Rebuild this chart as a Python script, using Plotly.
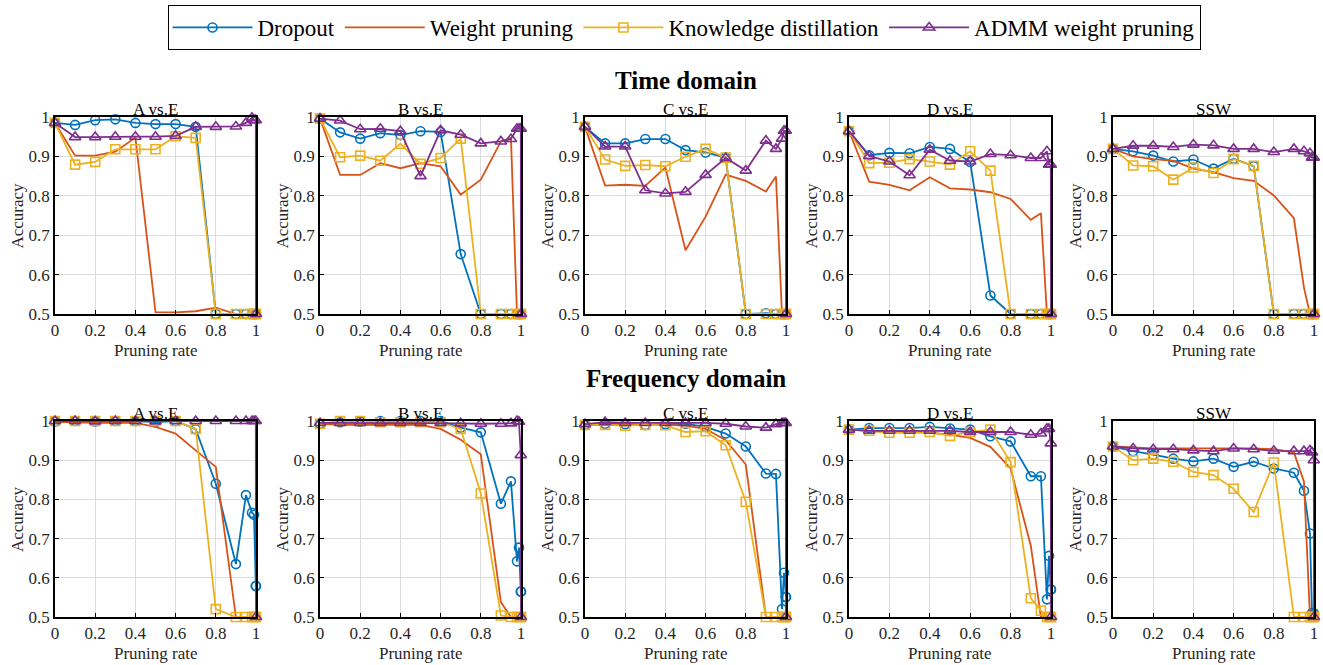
import plotly.graph_objects as go

W, H = 1323, 665

# ---------------- data ----------------
pruning_rate = [0, 0.1, 0.2, 0.3, 0.4, 0.5, 0.6, 0.7, 0.8, 0.9, 0.95, 0.98, 0.99, 0.999, 1.0]

method_names = ["Dropout", "Weight pruning", "Knowledge distillation", "ADMM weight pruning"]
panel_titles = ["A vs.E", "B vs.E", "C vs.E", "D vs.E", "SSW"]
row_titles = ["Time domain", "Frequency domain"]

y_tick_vals = [0.5, 0.6, 0.7, 0.8, 0.9, 1.0]
y_tick_text = ["0.5", "0.6", "0.7", "0.8", "0.9", "1"]
x_tick_vals = [0, 0.2, 0.4, 0.6, 0.8, 1.0]
x_tick_text = ["0", "0.2", "0.4", "0.6", "0.8", "1"]

# Time domain
time_A_dropout = [0.985, 0.980, 0.992, 0.994, 0.985, 0.982, 0.982, 0.975, 0.5, 0.5, 0.5, 0.5, 0.5, 0.5, 0.5]
time_A_wp      = [0.985, 0.902, 0.902, 0.912, 0.948, 0.505, 0.504, 0.507, 0.516, 0.5, 0.5, 0.5, 0.5, 0.5, 0.5]
time_A_kd      = [0.985, 0.879, 0.886, 0.918, 0.918, 0.918, 0.951, 0.947, 0.5, 0.5, 0.5, 0.5, 0.5, 0.5, 0.5]
time_A_admm    = [0.985, 0.949, 0.949, 0.950, 0.950, 0.950, 0.952, 0.975, 0.975, 0.976, 0.985, 0.998, 0.992, 0.992, 0.5]

time_B_dropout = [0.996, 0.961, 0.945, 0.959, 0.954, 0.964, 0.962, 0.652, 0.5, 0.5, 0.5, 0.5, 0.5, 0.5, 0.5]
time_B_wp      = [0.996, 0.853, 0.853, 0.883, 0.870, 0.883, 0.875, 0.803, 0.841, 0.938, 0.947, 0.5, 0.5, 0.5, 0.5]
time_B_kd      = [0.996, 0.898, 0.902, 0.889, 0.932, 0.881, 0.896, 0.945, 0.5, 0.5, 0.5, 0.5, 0.5, 0.5, 0.5]
time_B_admm    = [0.996, 0.991, 0.969, 0.970, 0.964, 0.850, 0.966, 0.955, 0.933, 0.938, 0.944, 0.970, 0.970, 0.970, 0.5]

time_C_dropout = [0.975, 0.933, 0.933, 0.944, 0.944, 0.916, 0.910, 0.897, 0.5, 0.502, 0.5, 0.5, 0.5, 0.5, 0.5]
time_C_wp      = [0.975, 0.826, 0.828, 0.825, 0.872, 0.662, 0.747, 0.854, 0.838, 0.811, 0.849, 0.5, 0.5, 0.5, 0.5]
time_C_kd      = [0.975, 0.892, 0.876, 0.878, 0.875, 0.899, 0.919, 0.897, 0.5, 0.5, 0.5, 0.5, 0.5, 0.5, 0.5]
time_C_admm    = [0.975, 0.925, 0.925, 0.814, 0.806, 0.810, 0.853, 0.896, 0.864, 0.940, 0.919, 0.945, 0.965, 0.965, 0.5]

time_D_dropout = [0.964, 0.903, 0.909, 0.908, 0.924, 0.919, 0.886, 0.547, 0.5, 0.5, 0.5, 0.5, 0.5, 0.5, 0.5]
time_D_wp      = [0.964, 0.836, 0.828, 0.814, 0.847, 0.819, 0.816, 0.809, 0.792, 0.739, 0.756, 0.5, 0.5, 0.5, 0.5]
time_D_kd      = [0.964, 0.883, 0.884, 0.893, 0.887, 0.879, 0.913, 0.864, 0.5, 0.5, 0.5, 0.5, 0.5, 0.5, 0.5]
time_D_admm    = [0.964, 0.901, 0.887, 0.852, 0.917, 0.889, 0.887, 0.906, 0.903, 0.896, 0.896, 0.913, 0.879, 0.879, 0.5]

time_SSW_dropout = [0.919, 0.913, 0.902, 0.887, 0.892, 0.869, 0.894, 0.875, 0.5, 0.5, 0.5, 0.5, 0.5, 0.5, 0.5]
time_SSW_wp      = [0.919, 0.900, 0.893, 0.889, 0.869, 0.860, 0.845, 0.838, 0.801, 0.743, 0.567, 0.5, 0.5, 0.5, 0.5]
time_SSW_kd      = [0.919, 0.877, 0.875, 0.841, 0.872, 0.858, 0.893, 0.876, 0.5, 0.5, 0.5, 0.5, 0.5, 0.5, 0.5]
time_SSW_admm    = [0.919, 0.927, 0.927, 0.924, 0.930, 0.928, 0.919, 0.919, 0.911, 0.919, 0.913, 0.908, 0.897, 0.897, 0.5]

# Frequency domain
freq_A_dropout = [0.999, 1.0, 0.999, 1.0, 1.0, 0.997, 1.0, 0.979, 0.840, 0.635, 0.811, 0.766, 0.761, 0.579, 0.579]
freq_A_wp      = [0.998, 0.996, 0.995, 0.996, 0.995, 0.985, 0.968, 0.925, 0.883, 0.5, 0.5, 0.5, 0.5, 0.5, 0.5]
freq_A_kd      = [1.0, 1.0, 1.0, 1.0, 1.0, 1.0, 1.0, 0.980, 0.520, 0.5, 0.5, 0.5, 0.5, 0.5, 0.5]
freq_A_admm    = [1.0, 1.0, 0.999, 1.0, 1.0, 0.999, 1.0, 1.0, 1.0, 1.0, 1.0, 1.0, 1.0, 1.0, 0.5]

freq_B_dropout = [0.993, 0.997, 0.999, 1.0, 1.0, 1.0, 1.0, 0.983, 0.971, 0.789, 0.846, 0.642, 0.677, 0.565, 0.565]
freq_B_wp      = [0.993, 0.990, 0.991, 0.991, 0.991, 0.990, 0.980, 0.952, 0.915, 0.538, 0.5, 0.5, 0.5, 0.5, 0.5]
freq_B_kd      = [0.993, 1.0, 1.0, 0.997, 0.997, 0.997, 0.997, 0.980, 0.815, 0.504, 0.5, 0.5, 0.5, 0.5, 0.5]
freq_B_admm    = [0.995, 0.995, 0.995, 0.995, 0.995, 0.995, 0.995, 0.994, 0.993, 0.993, 0.994, 1.0, 0.998, 0.913, 0.5]

freq_C_dropout = [0.990, 0.993, 0.992, 0.990, 0.992, 0.993, 0.985, 0.968, 0.935, 0.866, 0.865, 0.520, 0.613, 0.551, 0.551]
freq_C_wp      = [0.990, 0.990, 0.990, 0.990, 0.990, 0.988, 0.980, 0.951, 0.889, 0.5, 0.5, 0.5, 0.5, 0.5, 0.5]
freq_C_kd      = [0.990, 0.990, 0.988, 0.990, 0.989, 0.972, 0.974, 0.938, 0.794, 0.5, 0.5, 0.5, 0.5, 0.5, 0.5]
freq_C_admm    = [0.992, 0.997, 0.995, 0.995, 0.995, 0.995, 0.995, 0.993, 0.986, 0.983, 0.992, 0.995, 0.995, 0.995, 0.5]

freq_D_dropout = [0.978, 0.982, 0.982, 0.982, 0.985, 0.981, 0.978, 0.961, 0.948, 0.859, 0.859, 0.545, 0.656, 0.570, 0.570]
freq_D_wp      = [0.978, 0.975, 0.972, 0.972, 0.970, 0.965, 0.957, 0.934, 0.879, 0.682, 0.5, 0.5, 0.5, 0.5, 0.5]
freq_D_kd      = [0.978, 0.975, 0.970, 0.970, 0.972, 0.962, 0.972, 0.978, 0.895, 0.548, 0.516, 0.5, 0.5, 0.5, 0.5]
freq_D_admm    = [0.978, 0.975, 0.975, 0.975, 0.975, 0.975, 0.972, 0.972, 0.972, 0.965, 0.968, 0.980, 0.980, 0.943, 0.5]

freq_SSW_dropout = [0.935, 0.923, 0.914, 0.904, 0.897, 0.904, 0.883, 0.896, 0.879, 0.868, 0.822, 0.713, 0.510, 0.509, 0.509]
freq_SSW_wp      = [0.935, 0.932, 0.930, 0.930, 0.930, 0.930, 0.930, 0.930, 0.928, 0.920, 0.845, 0.5, 0.5, 0.5, 0.5]
freq_SSW_kd      = [0.935, 0.900, 0.904, 0.896, 0.870, 0.862, 0.827, 0.768, 0.894, 0.5, 0.5, 0.5, 0.5, 0.5, 0.5]
freq_SSW_admm    = [0.935, 0.930, 0.928, 0.928, 0.925, 0.923, 0.930, 0.928, 0.924, 0.923, 0.923, 0.925, 0.920, 0.900, 0.5]

panels = [
    [time_A_dropout, time_A_wp, time_A_kd, time_A_admm],
    [time_B_dropout, time_B_wp, time_B_kd, time_B_admm],
    [time_C_dropout, time_C_wp, time_C_kd, time_C_admm],
    [time_D_dropout, time_D_wp, time_D_kd, time_D_admm],
    [time_SSW_dropout, time_SSW_wp, time_SSW_kd, time_SSW_admm],
    [freq_A_dropout, freq_A_wp, freq_A_kd, freq_A_admm],
    [freq_B_dropout, freq_B_wp, freq_B_kd, freq_B_admm],
    [freq_C_dropout, freq_C_wp, freq_C_kd, freq_C_admm],
    [freq_D_dropout, freq_D_wp, freq_D_kd, freq_D_admm],
    [freq_SSW_dropout, freq_SSW_wp, freq_SSW_kd, freq_SSW_admm],
]

# ---------------- style ----------------
colors = ["#0072BD", "#D95319", "#EDB120", "#7E2F8E"]
symbols = ["circle-open", None, "square-open", "triangle-up-open"]
msizes = [9, 0, 9, 10]
FONT = "Liberation Serif"
TXT = "#262626"

col_px = [(55, 256), (320, 521), (585, 786), (849, 1051), (1113, 1314)]
row_px = [(117, 314), (421, 617)]


def px_x(p):
    return p / W


def px_y(p):
    return 1 - p / H


fig = go.Figure()
layout = dict(
    width=W, height=H,
    margin=dict(l=0, r=0, t=0, b=0),
    paper_bgcolor="white", plot_bgcolor="white",
    font=dict(family=FONT, size=17, color=TXT),
    showlegend=True,
    legend=dict(
        orientation="h", x=px_x(684), xanchor="center", y=px_y(5), yanchor="top",
        bordercolor="black", borderwidth=1, bgcolor="white",
        font=dict(family=FONT, size=23, color="black"),
        itemwidth=80, tracegroupgap=0,
    ),
)
annotations = []

for i, series in enumerate(panels):
    r, c = divmod(i, 5)
    n = i + 1
    xa = "x" if n == 1 else f"x{n}"
    ya = "y" if n == 1 else f"y{n}"
    for k, vals in enumerate(series):
        mode = "lines" if symbols[k] is None else "lines+markers"
        tr = dict(
            x=pruning_rate, y=vals, mode=mode, name=method_names[k],
            legendgroup=method_names[k], showlegend=(i == 0),
            line=dict(color=colors[k], width=1.8),
            xaxis=xa, yaxis=ya, cliponaxis=False,
        )
        if symbols[k] is not None:
            tr["marker"] = dict(symbol=symbols[k], size=msizes[k], color=colors[k],
                                line=dict(color=colors[k], width=1.6))
        fig.add_trace(go.Scatter(**tr))
    x0, x1 = col_px[c]
    y0, y1 = row_px[r]
    common = dict(showline=True, linecolor="black", linewidth=1.5, mirror=True,
                  ticks="inside", ticklen=4, tickcolor="black", tickwidth=1,
                  showgrid=True, gridcolor="#dcdcdc", gridwidth=1, zeroline=False,
                  tickfont=dict(family=FONT, size=17, color=TXT), automargin=False)
    layout["xaxis" if n == 1 else f"xaxis{n}"] = dict(
        domain=[px_x(x0), px_x(x1)], anchor=ya, range=[0, 1],
        tickvals=x_tick_vals, ticktext=x_tick_text, **common)
    layout["yaxis" if n == 1 else f"yaxis{n}"] = dict(
        domain=[px_y(y1), px_y(y0)], anchor=xa, range=[0.5, 1],
        tickvals=y_tick_vals, ticktext=y_tick_text, **common)
    cx = (x0 + x1) / 2
    annotations.append(dict(text=panel_titles[c], x=px_x(cx), y=px_y(y0 - 8), xref="paper", yref="paper",
                            xanchor="center", yanchor="middle", showarrow=False,
                            font=dict(family=FONT, size=17, color="black")))
    annotations.append(dict(text="Pruning rate", x=px_x(cx), y=px_y(y1 + 36), xref="paper", yref="paper",
                            xanchor="center", yanchor="middle", showarrow=False,
                            font=dict(family=FONT, size=17, color=TXT)))
    annotations.append(dict(text="Accuracy", x=px_x(x0 - 38), y=px_y((y0 + y1) / 2), xref="paper", yref="paper",
                            xanchor="center", yanchor="middle", showarrow=False, textangle=-90,
                            font=dict(family=FONT, size=17, color=TXT)))

annotations.append(dict(text=row_titles[0], x=px_x(685.5), y=px_y(80), xref="paper", yref="paper",
                        xanchor="center", yanchor="middle", showarrow=False,
                        font=dict(family=FONT, size=25, color="black", weight="bold")))
annotations.append(dict(text=row_titles[1], x=px_x(685.5), y=px_y(378), xref="paper", yref="paper",
                        xanchor="center", yanchor="middle", showarrow=False,
                        font=dict(family=FONT, size=25, color="black", weight="bold")))

layout["annotations"] = annotations
fig.update_layout(**layout)
fig.write_html("out.html")
